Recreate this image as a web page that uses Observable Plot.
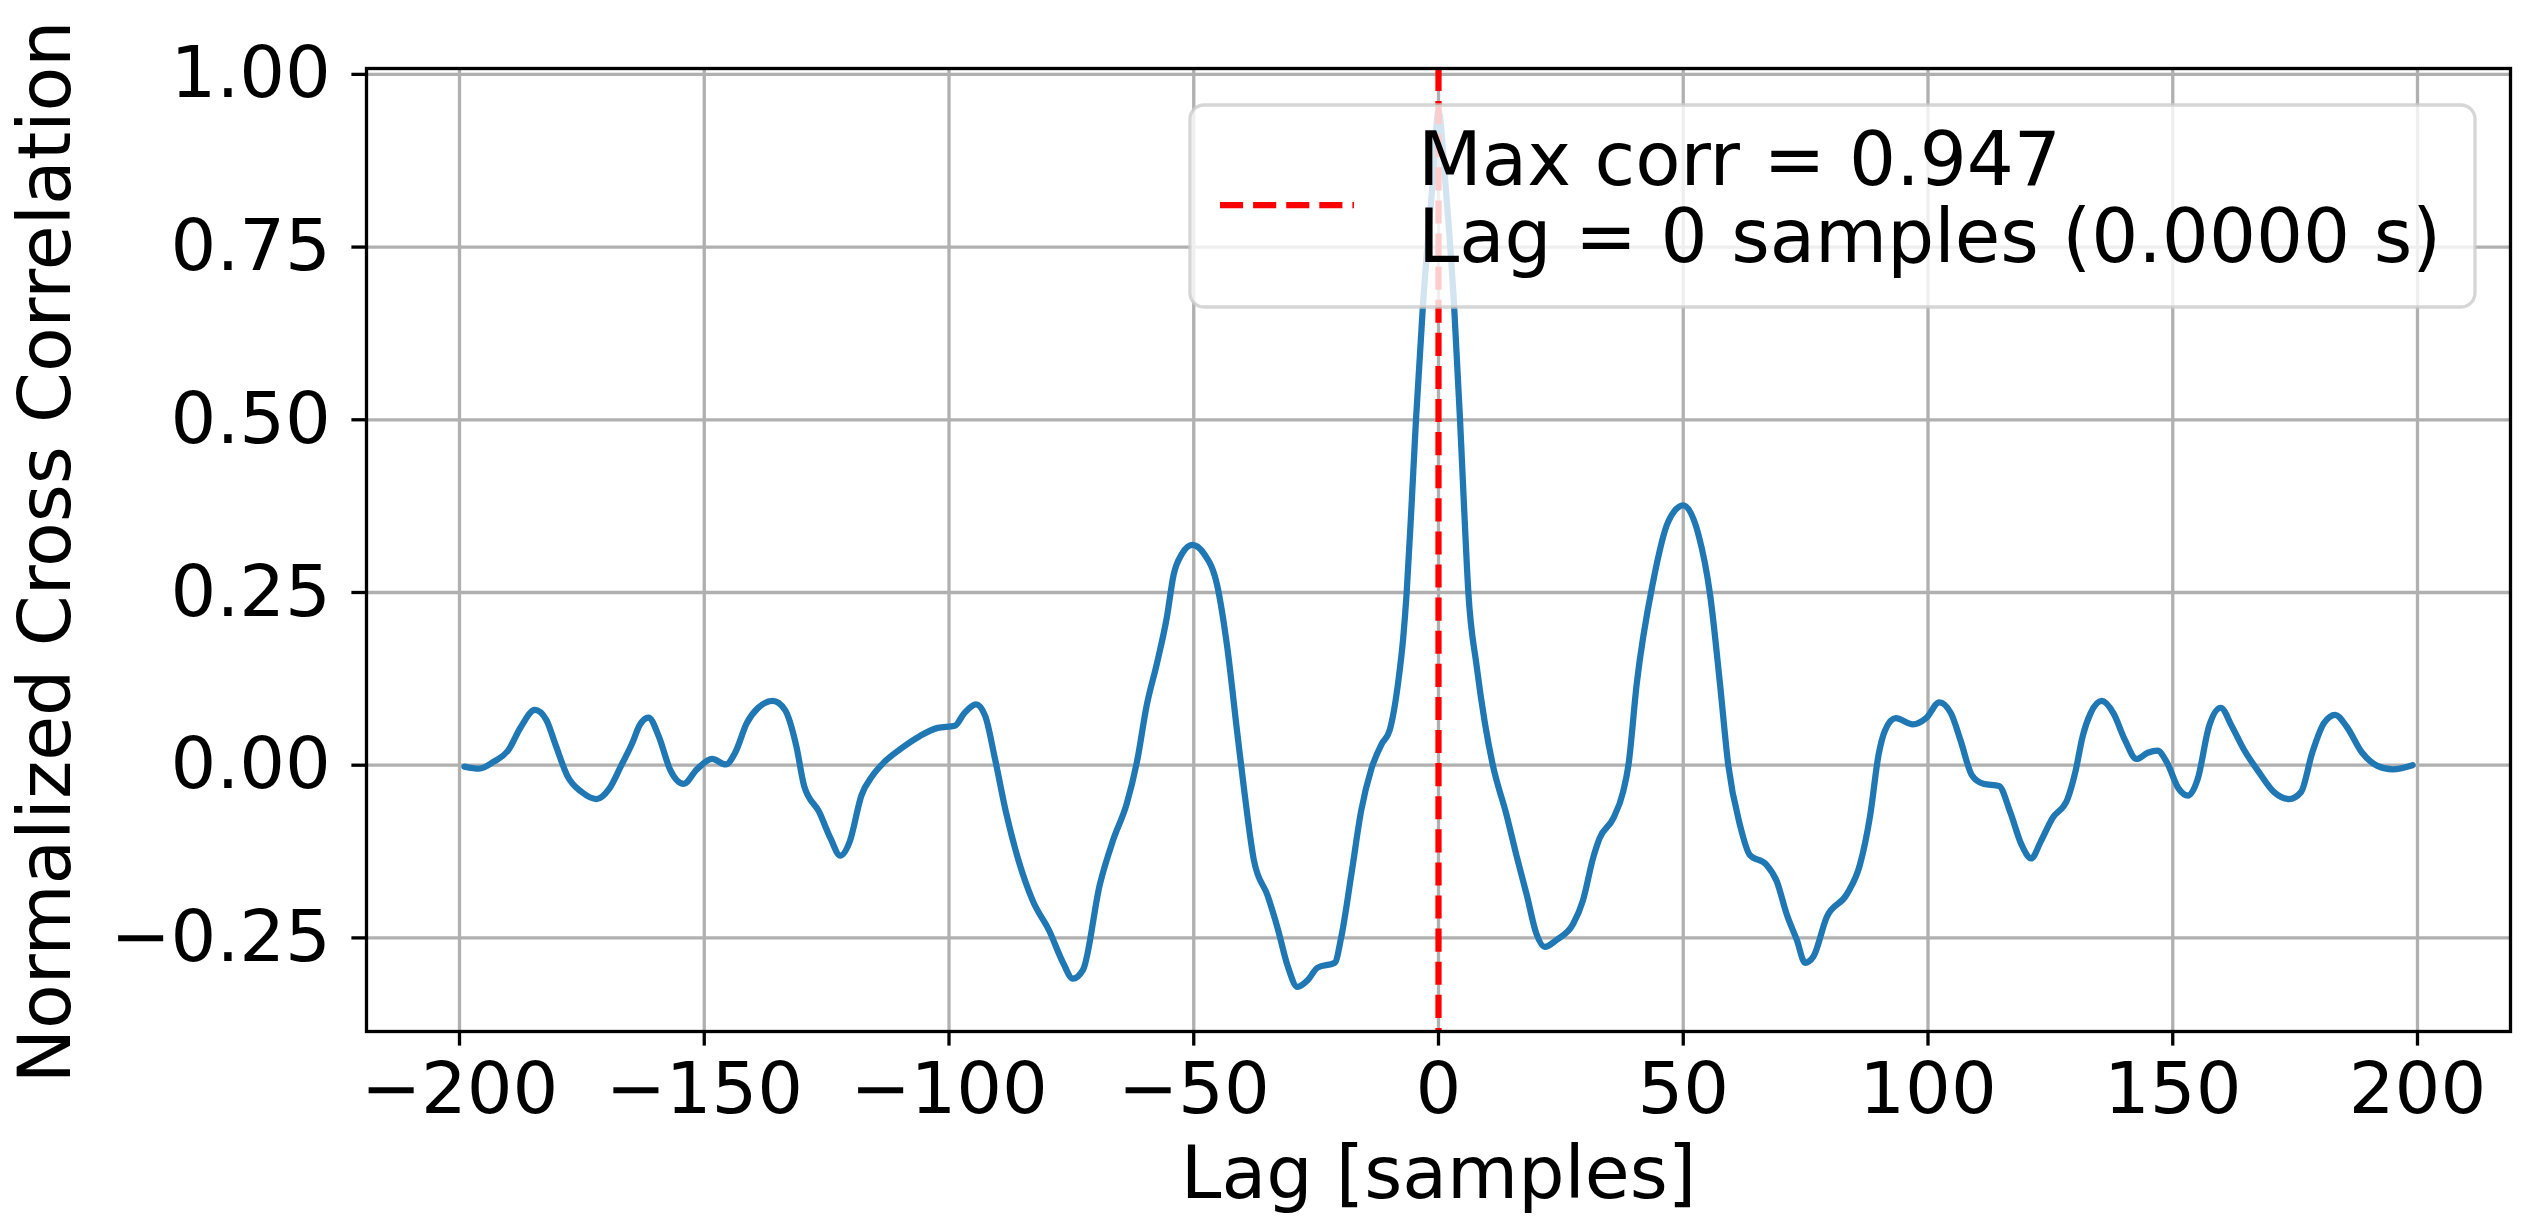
<!DOCTYPE html>
<html><head><meta charset="utf-8">
<script src="https://cdn.jsdelivr.net/npm/d3@7"></script>
<script src="https://cdn.jsdelivr.net/npm/@observablehq/plot@0.6"></script>
<style>
html,body{margin:0;padding:0;background:#fff;overflow:hidden;}
#wrap{position:relative;width:2531px;height:1225px;font-family:"DejaVu Sans";}
#wrap svg{position:absolute;left:0;top:0;}
</style></head><body><div id="wrap"></div>
<script>
// Lag values (samples)
const lags = [
-199,-196,-193,-190,-187.5,-184.6,-182.3,-180.3,-178,-175,-172,-169.4,-167,-164.7,-163.2,-161.4,-159.3,-157,-154.2,-151.5,
-148.4,-145.6,-143.7,-141.3,-139,-136,-133.5,-131.2,-129.6,-126.5,-124.2,-122.2,-120.3,-117.9,-115.6,-113.3,-110,-106,-102.3,-98.8,
-96.9,-94.5,-92.6,-90.6,-88.3,-86,-82.9,-79.5,-76.7,-74.7,-72.6,-69.2,-66.4,-63.7,-61.6,-59.6,-57.5,-55.5,-54.1,-52.4,
-50.3,-47.9,-45.2,-43.2,-41.1,-39.7,-37.7,-34.9,-32.9,-30.8,-28.8,-26.7,-24.7,-21.2,-19.9,-17.8,-15.8,-13.7,-11.6,-10,
-8.2,-7.2,-6.5,-5.5,-4.6,-3.2,-1.2,0,1.4,3.2,4.4,5.2,6.1,7.8,9.5,11.1,13.9,15.9,18,20,
21.7,24.1,27.5,29.5,31.6,32.9,35.7,37.7,38.8,40.5,43.8,46.9,50,53.1,55.5,57.5,59.2,61.6,63.6,67,
69.1,71.1,73.2,74.9,76.6,79.3,83.4,86.1,88.2,89.9,91.2,93.4,96.9,99.6,102.3,104.7,106.6,109,111.3,114.5,
116.8,119.1,121.1,123,125.4,128.5,130.1,131.6,133.2,135.5,137.9,140.2,142.6,144.9,146.9,148.8,151.2,153.1,155.1,157.4,
159.8,162.1,164.5,167.6,170.7,173.8,176.2,178.5,180.9,183.2,185.5,188.7,191.8,194.9,199
];
// Normalized cross correlation values
const corr = [
-0.002,-0.005,0.005,0.022,0.055,0.080,0.066,0.028,-0.015,-0.039,-0.049,-0.034,-0.001,0.032,0.058,0.069,0.042,-0.006,-0.027,-0.006,
0.009,0.001,0.018,0.061,0.083,0.093,0.080,0.028,-0.030,-0.068,-0.106,-0.131,-0.111,-0.044,-0.015,0.004,0.023,0.042,0.054,0.057,
0.075,0.088,0.071,0.009,-0.070,-0.133,-0.196,-0.240,-0.286,-0.309,-0.296,-0.173,-0.107,-0.056,0.005,0.087,0.148,0.214,0.276,0.306,
0.319,0.306,0.260,0.173,0.046,-0.036,-0.138,-0.189,-0.235,-0.291,-0.321,-0.311,-0.293,-0.286,-0.250,-0.158,-0.066,-0.005,0.031,0.050,
0.122,0.185,0.250,0.377,0.500,0.663,0.843,0.947,0.843,0.663,0.500,0.377,0.250,0.143,0.060,0.000,-0.072,-0.130,-0.187,-0.244,
-0.263,-0.253,-0.230,-0.196,-0.134,-0.106,-0.077,-0.039,0.000,0.118,0.264,0.352,0.376,0.334,0.246,0.118,0.000,-0.087,-0.130,-0.144,
-0.168,-0.215,-0.253,-0.286,-0.277,-0.220,-0.187,-0.144,-0.072,0.015,0.050,0.068,0.059,0.068,0.091,0.075,0.037,-0.015,-0.027,-0.030,
-0.068,-0.115,-0.135,-0.111,-0.077,-0.049,-0.010,0.042,0.075,0.093,0.075,0.037,0.009,0.018,0.021,0.004,-0.034,-0.044,-0.020,0.056,
0.083,0.056,0.023,-0.010,-0.039,-0.049,-0.039,0.018,0.061,0.073,0.056,0.018,-0.001,-0.006,0.000
];
const xTicks = [-200,-150,-100,-50,0,50,100,150,200];
const yTicks = [-0.25,0,0.25,0.5,0.75,1.0];
const xLabel = "Lag [samples]";
const yLabel = "Normalized Cross Correlation";
const maxCorr = 0.947;
const bestLag = 0;
const bestLagSeconds = 0.0;

const data = lags.map((l, i) => ({lag: l, corr: corr[i]}));
const FT = 72;   // tick labels
const FL = 73;   // axis labels
const FG = 74;   // legend

const chart = Plot.plot({
  width: 2531, height: 1225,
  marginLeft: 366, marginRight: 21, marginTop: 68, marginBottom: 194,
  style: {fontFamily: "DejaVu Sans", fontSize: FT + "px", background: "transparent", overflow: "visible"},
  x: {domain: [-219, 219]},
  y: {domain: [-0.3855, 1.0085]},
  marks: [
    Plot.gridX(xTicks, {stroke: "#b0b0b0", strokeOpacity: 1, strokeWidth: 3.3}),
    Plot.gridY(yTicks, {stroke: "#b0b0b0", strokeOpacity: 1, strokeWidth: 3.3}),
    Plot.line(data, {x: "lag", y: "corr", stroke: "#1f77b4", strokeWidth: 6.25, curve: "monotone-x"}),
    Plot.ruleX([bestLag], {stroke: "red", strokeWidth: 6.25, strokeDasharray: "23.1,10"}),
    Plot.frame({stroke: "black", strokeWidth: 3.3}),
    Plot.axisX(xTicks, {tickSize: 14.6, tickPadding: 16, fontSize: FT, strokeWidth: 3.3, tickFormat: d3.format("d"), label: null}),
    Plot.axisY(yTicks, {tickSize: 14.6, tickPadding: 21, fontSize: FT, strokeWidth: 3.3, tickFormat: d3.format(".2f"), label: null}),
    Plot.text([xLabel], {text: d => d, frameAnchor: "bottom", dy: 166, lineAnchor: "bottom", fontSize: FL}),
    Plot.text([yLabel], {text: d => d, frameAnchor: "left", rotate: -90, dx: -297, dy: 2, lineAnchor: "bottom", textAnchor: "middle", fontSize: FL})
  ]
});
const wrap = document.getElementById("wrap");
wrap.appendChild(chart);

// Legend overlay (upper right, inside axes)
const ns = "http://www.w3.org/2000/svg";
const leg = document.createElementNS(ns, "svg");
leg.setAttribute("width", 2531); leg.setAttribute("height", 1225);
leg.style.pointerEvents = "none";
leg.innerHTML = `
<rect x="1190" y="105" width="1285" height="202" rx="14" ry="14" fill="white" fill-opacity="0.8" stroke="#cccccc" stroke-opacity="0.8" stroke-width="3.3"/>
<line x1="1220" x2="1354" y1="205" y2="205" stroke="red" stroke-width="6.25" stroke-dasharray="23.1,10"/>
<text x="1418" y="185" font-family="DejaVu Sans" font-size="${FG}" fill="black">Max corr = ${maxCorr.toFixed(3)}</text>
<text x="1418" y="262" font-family="DejaVu Sans" font-size="${FG}" fill="black">Lag = ${bestLag} samples (${bestLagSeconds.toFixed(4)} s)</text>`;
wrap.appendChild(leg);
</script>
</body></html>
